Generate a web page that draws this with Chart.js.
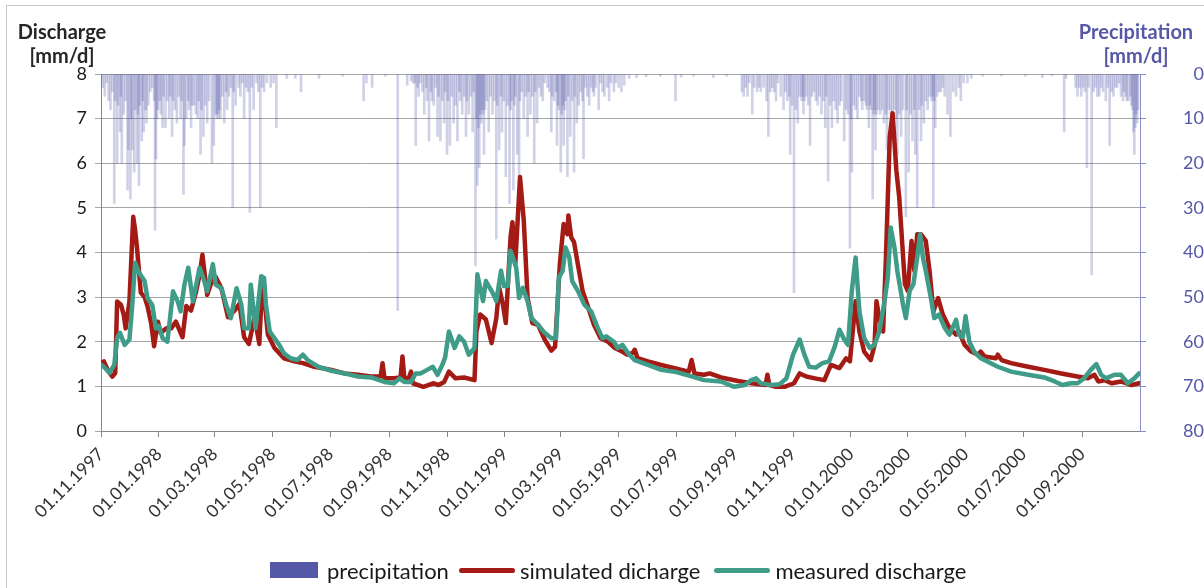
<!DOCTYPE html>
<html>
<head>
<meta charset="utf-8">
<script src="https://cdn.jsdelivr.net/npm/chart.js@4.4.1/dist/chart.umd.min.js"></script>
<style>
  html, body { margin: 0; padding: 0; background: #ffffff; }
  #wrap { position: relative; width: 1204px; height: 588px; overflow: hidden; font-family: Lato, "Open Sans", sans-serif; }
  #frame { position: absolute; left: 6px; top: 5px; width: 1300px; height: 700px; border-top: 1px solid #c9c9c9; border-left: 1px solid #c9c9c9; }
  canvas { position: absolute; left: 0; top: 0; }
  .ytitle { position: absolute; font-weight: bold; font-size: 20px; line-height: 24px; text-align: center; }
  #ltitle { left: 2px; width: 120px; top: 19px; color: #262626; }
  #rtitle { left: 1066px; width: 140px; top: 19px; color: #5558a6; }
  #legend { position: absolute; left: 270px; top: 557px; height: 26px; display: flex; align-items: center; font-size: 22px; color: #1a1a1a; white-space: nowrap; }
  .sw-rect { width: 48px; height: 16px; background: #5558a6; margin-right: 9px; }
  .sw-line { width: 56px; height: 5px; border-radius: 3px; margin-right: 5px; }
  .lg-text { margin-right: 10px; }
</style>
</head>
<body>
<div id="wrap">
  <div id="frame"></div>
  <canvas id="c" width="1204" height="588"></canvas>
  <div id="ltitle" class="ytitle">Discharge<br>[mm/d]</div>
  <div id="rtitle" class="ytitle">Precipitation<br>[mm/d]</div>
  <div id="legend">
    <div class="sw-rect"></div><span class="lg-text">precipitation</span>
    <div class="sw-line" style="background:#a31b14"></div><span class="lg-text">simulated dicharge</span>
    <div class="sw-line" style="background:#3f9c88; margin-left:4px"></div><span class="lg-text">measured discharge</span>
  </div>
</div>
<script>
// ---- Data (days counted from 01.11.1997) ----
const startDate = '01.11.1997';
const endDay = 1096;

const tickLabels = ['01.11.1997','01.01.1998','01.03.1998','01.05.1998','01.07.1998','01.09.1998',
  '01.11.1998','01.01.1999','01.03.1999','01.05.1999','01.07.1999','01.09.1999',
  '01.11.1999','01.01.2000','01.03.2000','01.05.2000','01.07.2000','01.09.2000'];

const simDays = [0,3,8,12,15,17,21,24,26,30,34,36,38,42,46,49,53,56,60,63,69,74,79,86,90,95,100,104,107,112,116,121,127,134,141,146,151,156,162,167,170,173,176,183,193,204,213,225,243,257,271,285,295,297,299,309,316,318,320,325,327,329,340,351,356,362,367,374,383,394,396,400,406,412,417,420,424,427,432,434,437,442,446,450,455,461,468,475,479,484,488,492,493,496,499,503,508,513,520,527,535,542,548,555,561,563,566,577,591,605,620,623,626,636,642,654,672,686,701,703,705,712,721,731,737,744,753,763,770,779,786,790,793,796,800,805,812,816,818,821,825,828,832,835,839,842,848,851,855,858,861,865,870,874,878,883,888,895,902,905,911,918,925,928,932,944,946,950,960,978,995,1013,1030,1041,1048,1052,1059,1066,1076,1087,1095];
const simValues = [1.52,1.56,1.33,1.22,1.3,2.9,2.83,2.6,2.3,2.9,4.8,4.5,4.1,3.1,3.0,2.8,2.4,1.9,2.45,2.2,2.3,2.3,2.45,2.1,2.8,2.7,3.1,3.5,3.95,3.05,3.3,3.45,3.2,2.55,2.7,2.85,2.1,1.95,2.55,1.95,3.3,2.83,2.16,1.86,1.63,1.56,1.52,1.44,1.37,1.29,1.26,1.22,1.22,1.52,1.18,1.18,1.2,1.67,1.18,1.2,1.33,1.07,0.99,1.07,1.03,1.1,1.33,1.18,1.2,1.14,2.23,2.61,2.5,1.97,2.53,3.21,2.83,2.42,4.34,4.68,3.74,5.69,4.71,2.98,2.42,2.38,2.05,1.8,1.89,3.74,4.64,4.41,4.83,4.34,4.23,3.74,3.14,2.83,2.38,2.08,2.0,1.86,1.8,1.71,1.75,1.82,1.63,1.56,1.48,1.41,1.33,1.59,1.29,1.26,1.29,1.2,1.12,1.07,1.03,1.26,1.03,0.99,0.99,1.07,1.29,1.22,1.18,1.14,1.48,1.41,1.63,1.56,2.23,2.91,2.23,1.78,1.59,1.93,2.91,2.53,2.23,3.89,6.59,7.12,5.84,5.24,3.29,3.14,4.26,3.59,4.41,4.41,4.26,3.59,2.68,2.98,2.61,2.31,2.16,2.23,1.93,1.78,1.71,1.78,1.67,1.63,1.71,1.59,1.52,1.44,1.37,1.29,1.22,1.18,1.26,1.11,1.14,1.07,1.11,1.03,1.07];

const measDays = [0,3,9,14,17,20,25,30,33,36,40,46,49,54,58,61,65,70,76,81,84,88,92,97,104,109,112,118,121,127,132,137,143,148,151,156,158,163,169,172,174,178,183,188,193,200,207,213,218,229,243,257,271,285,299,309,315,320,327,332,337,344,350,355,360,363,367,373,378,383,388,394,397,403,406,413,417,422,425,429,432,438,441,445,450,454,461,468,475,480,483,487,490,494,497,503,510,517,524,529,533,541,545,550,556,563,577,591,605,624,636,654,668,679,686,691,696,707,716,723,730,737,742,747,754,761,768,774,779,784,788,792,796,800,805,811,816,821,826,830,833,837,840,846,849,853,857,861,864,867,870,876,879,884,890,895,902,905,909,912,916,921,928,935,946,960,978,995,1006,1014,1023,1030,1037,1044,1050,1055,1060,1069,1076,1083,1090,1095];
const measValues = [1.48,1.44,1.3,1.48,2.08,2.2,1.93,2.05,2.83,3.77,3.55,3.36,2.98,2.83,2.3,2.35,2.08,2.0,3.13,2.9,2.68,3.28,3.66,2.9,3.66,3.36,3.13,3.74,3.28,3.2,2.83,2.53,3.2,2.83,2.3,2.3,3.28,2.3,3.47,3.43,2.83,2.23,2.08,1.93,1.74,1.63,1.59,1.71,1.59,1.44,1.35,1.29,1.22,1.2,1.1,1.07,1.18,1.1,1.1,1.29,1.29,1.37,1.44,1.26,1.48,1.65,2.23,1.86,2.12,2.0,1.71,1.86,3.51,2.91,3.36,3.1,2.91,3.59,3.25,3.25,4.04,3.66,2.98,3.21,2.91,2.53,2.38,2.2,2.08,2.08,3.44,3.59,4.11,3.89,3.36,3.14,2.83,2.68,2.31,2.08,2.12,2.0,1.86,1.93,1.74,1.59,1.48,1.37,1.33,1.22,1.14,1.11,0.99,1.03,1.14,1.18,1.07,1.03,1.05,1.18,1.71,2.05,1.71,1.44,1.42,1.52,1.56,1.89,2.27,2.05,1.93,3.14,3.89,2.68,2.08,1.86,1.93,2.23,2.83,3.44,4.56,4.11,3.59,2.83,2.53,3.14,3.29,3.89,4.41,3.89,3.59,2.91,2.53,2.61,2.31,2.16,2.49,2.16,2.1,2.57,2.0,1.78,1.63,1.56,1.44,1.33,1.26,1.2,1.11,1.03,1.07,1.07,1.18,1.37,1.5,1.26,1.18,1.26,1.26,1.07,1.18,1.29];

const precipDays = [2,4,6,8,10,12,14,15,17,18,20,21,22,24,26,28,29,31,32,33,35,36,38,39,40,41,43,44,45,47,48,50,52,54,56,57,58,59,60,62,63,65,66,68,70,72,73,75,76,78,80,82,84,85,87,88,90,92,93,95,96,98,100,102,103,105,106,108,110,112,114,117,119,121,122,123,124,125,126,128,130,132,133,135,137,139,140,142,145,147,149,151,153,155,157,159,161,164,166,168,170,172,175,179,182,185,196,205,211,230,255,277,280,286,300,313,323,
  327,329,331,332,334,335,337,339,341,343,344,346,348,349,351,353,355,356,358,360,362,363,365,366,368,370,372,374,376,378,379,381,383,385,386,388,390,392,393,395,396,397,398,399,400,401,402,403,404,405,407,409,411,413,415,417,418,420,422,423,425,427,429,431,432,433,435,436,437,439,441,442,444,446,448,450,451,453,455,457,458,460,462,464,466,468,471,473,475,476,478,480,481,482,483,485,486,487,488,489,490,492,493,495,497,499,500,502,504,506,508,509,511,513,515,517,519,520,522,525,527,529,531,534,536,538,541,543,
  546,549,552,557,565,575,590,606,612,625,646,660,
  676,678,680,682,684,687,689,692,694,696,699,702,704,706,708,710,712,714,717,720,722,724,726,727,729,731,733,735,737,739,740,741,742,744,746,748,750,752,754,756,758,760,762,764,765,767,769,771,773,775,777,779,781,784,786,788,790,791,792,794,796,798,800,802,803,805,807,808,810,811,812,814,815,816,817,818,820,822,824,826,828,829,831,833,835,837,839,840,842,844,846,849,850,852,854,856,858,859,861,863,865,866,868,870,872,874,876,877,878,879,880,882,884,886,888,890,893,896,899,902,905,907,910,914,918,
  930,950,975,993,1003,1016,1018,
  1028,1030,1032,1034,1036,1038,1040,1042,1045,1047,1049,1051,1053,1055,1057,1060,1062,1064,1066,1068,1070,1072,1074,1076,1078,1079,1081,1082,1084,1086,1087,1088,1089,1090,1091,1092,1093,1094];
const precipValues = [3,5,2,6,8,4,29,6,20,7,13,5,20,9,6,26,17,28,10,17,22,8,20,9,25,7,15,6,13,8,11,7,4,3,6,35,19,10,8,6,9,12,5,12,6,10,5,14,6,8,11,5,10,6,27,16,10,6,8,12,7,7,9,10,6,18,8,14,7,11,6,20,16,9,10,9,10,8,10,5,11,4,8,5,3,30,4,7,3,5,2,10,3,4,31,3,8,2,4,30,3,4,2,3,2,12,1,1,4,1,0.5,6,2,3,0.5,53,2.5,
  1.5,2,2,16,3,5,2,4,9,3,6,15,4,6,7,3,14,5,15,6,11,4,18,6,16,5,11,7,15,4,6,9,5,14,6,9,5,13,4,43,10,25,12,21,9,11,8,9,18,8,6,13,5,9,6,37,7,17,5,13,6,23,7,29,8,6,26,7,5,18,23,6,4,10,5,14,4,9,5,20,4,11,3,5,6,2,3,4,13,5,6,4,16,7,8,22,9,7,16,8,6,23,5,14,6,22,5,11,7,4,6,19,3,5,7,3,4,5,3,8,2,4,5,3,6,2,4,2,
  3,4,2.5,1,0.8,0.6,0.5,6,0.7,0.5,0.8,0.5,
  4,5,3,5,2,9,3,4,3,4,3,6,14,4,3,4,6,2,5,8,4,6,5,18,7,49,8,11,5,6,5,9,6,5,7,16,5,4,6,7,5,9,6,12,5,24,7,12,6,8,11,7,6,15,8,9,39,10,22,7,8,10,5,6,8,6,7,8,12,7,8,28,9,8,17,9,8,9,8,11,9,17,8,9,9,8,10,18,9,14,8,32,8,22,9,15,8,18,30,8,15,7,11,6,8,5,6,5,30,6,12,5,4,4,3,5,9,14,4,5,3,6,2,2,1,
  0.5,0.4,0.5,0.8,0.4,13,1,
  3,5,3,5,3,4,21,3,45,4,3,5,5,3,4,6,3,16,4,5,3,3,2,5,6,4,5,6,6,5,7,8,13,18,12,9,11,8];

// ---- helpers ----
function dayOffset(label) {
  const [d, m, y] = label.split('.').map(Number);
  const [d0, m0, y0] = startDate.split('.').map(Number);
  return Math.round((Date.UTC(y, m - 1, d) - Date.UTC(y0, m0 - 1, d0)) / 86400000);
}
const tickDays = tickLabels.map(dayOffset);
const pairs = (xs, ys) => xs.map((x, i) => ({ x: x, y: ys[i] }));

const FONT = 'Lato, "Open Sans", sans-serif';

new Chart(document.getElementById('c'), {
  data: {
    datasets: [
      {
        type: 'line', label: 'measured discharge', order: 1, yAxisID: 'y',
        data: pairs(measDays, measValues),
        borderColor: '#3f9c88', borderWidth: 4.5, pointRadius: 0, tension: 0,
        borderJoinStyle: 'round', borderCapStyle: 'round'
      },
      {
        type: 'line', label: 'simulated dicharge', order: 2, yAxisID: 'y',
        data: pairs(simDays, simValues),
        borderColor: '#a31b14', borderWidth: 4.5, pointRadius: 0, tension: 0,
        borderJoinStyle: 'round', borderCapStyle: 'round'
      },
      {
        type: 'bar', label: 'precipitation', order: 3, yAxisID: 'y2',
        data: pairs(precipDays, precipValues),
        backgroundColor: 'rgba(83,86,166,0.27)', borderWidth: 0,
        barThickness: 2, grouped: false
      }
    ]
  },
  options: {
    responsive: false,
    animation: false,
    layout: { padding: { top: 74, left: 0, right: 0, bottom: 0 } },
    plugins: { legend: { display: false }, tooltip: { enabled: false }, title: { display: false } },
    scales: {
      x: {
        type: 'linear', position: 'bottom', min: 0, max: endDay, offset: false,
        afterFit: (s) => { s.height = 588 - 431; },
        afterBuildTicks: (s) => { s.ticks = tickDays.map(v => ({ value: v })); },
        ticks: {
          autoSkip: false, minRotation: 45, maxRotation: 45, padding: 7,
          color: '#333333', font: { family: FONT, size: 17.5 },
          callback: (v, i) => tickLabels[i]
        },
        grid: { offset: false, drawOnChartArea: false, drawTicks: true, tickLength: 6, color: '#868686' },
        border: { color: '#868686' }
      },
      y: {
        position: 'left', min: 0, max: 8,
        afterFit: (s) => { s.width = 101; },
        ticks: { stepSize: 1, padding: 8, color: '#1a1a1a', font: { family: FONT, size: 18 } },
        grid: { color: '#a6a6a6', tickLength: 6 },
        border: { color: '#868686' }
      },
      y2: {
        position: 'right', min: 0, max: 80, reverse: true,
        afterFit: (s) => { s.width = 64; },
        ticks: { stepSize: 10, padding: 9, crossAlign: 'far', color: '#5558a6', font: { family: FONT, size: 18 } },
        grid: { drawOnChartArea: false, tickLength: 6, color: '#8c8ec8' },
        border: { color: '#8c8ec8' }
      }
    }
  }
});
</script>
</body>
</html>
